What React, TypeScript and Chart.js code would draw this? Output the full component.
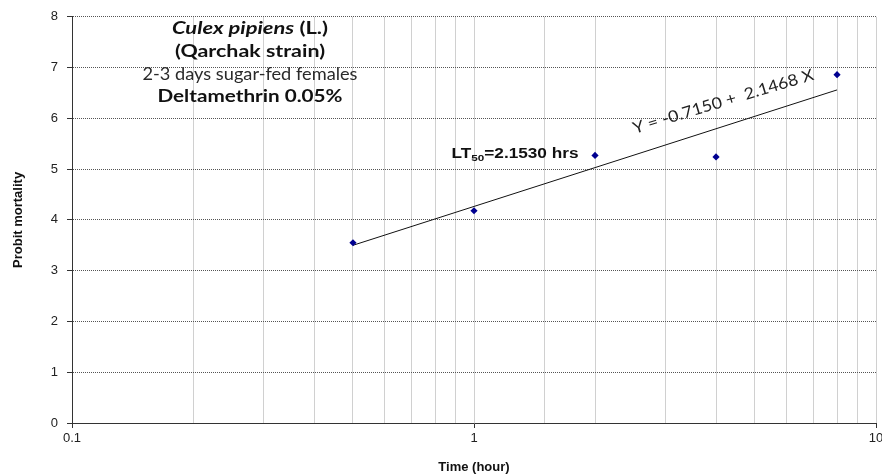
import React, { useEffect, useRef } from "react";
import { Chart, registerables } from "chart.js";

Chart.register(...registerables);

// ---- data ----
const timeHours = [0.5, 1, 2, 4, 8];
const probitMortality = [3.55, 4.18, 5.27, 5.24, 6.86];
const fitTime = [0.5, 8];
const fitProbit = [3.5, 6.56];
const xLabelValues = [0.1, 1, 10];
const yTickValues = [0, 1, 2, 3, 4, 5, 6, 7, 8];

const titleLines = [
  "Culex pipiens",
  " (L.)",
  "(Qarchak strain)",
  "2-3 days sugar-fed females",
  "Deltamethrin 0.05%",
];
const ltLabel = ["LT", "50", "=2.1530 hrs"];
const equationLabel = "Y = -0.7150 +  2.1468 X";

const W = 894;
const H = 476;

type Seg = { text: string; weight?: string; style?: string; family: string; scale?: number; dy?: number };

function fontOf(s: Seg, size: number) {
  const sz = size * (s.scale ?? 1);
  return `${s.style ?? "normal"} ${s.weight ?? "normal"} ${sz}px ${s.family}`;
}

function drawRich(
  ctx: CanvasRenderingContext2D,
  segs: Seg[],
  cx: number,
  cy: number,
  size: number,
  targetWidth: number,
  angle = 0,
  color = "#111"
) {
  ctx.save();
  ctx.translate(cx, cy);
  if (angle) ctx.rotate(angle);
  const widths = segs.map((s) => {
    ctx.font = fontOf(s, size);
    return ctx.measureText(s.text).width;
  });
  const total = widths.reduce((a, b) => a + b, 0);
  const sx = targetWidth / total;
  ctx.scale(sx, 1);
  ctx.fillStyle = color;
  ctx.textBaseline = "alphabetic";
  ctx.textAlign = "left";
  const cap = size * 0.716;
  let x = -total / 2;
  segs.forEach((s, i) => {
    ctx.font = fontOf(s, size);
    ctx.fillText(s.text, x, cap / 2 + (s.dy ?? 0));
    x += widths[i];
  });
  ctx.restore();
}

const isPow10 = (v: number) => Math.abs(Math.log10(v) - Math.round(Math.log10(v))) < 1e-6;

const textPlugin = {
  id: "texts",
  afterDatasetsDraw(chart: any) {
    const ctx: CanvasRenderingContext2D = chart.ctx;
    const CAL = "Lato, 'Open Sans', sans-serif";
    const AR = "'Liberation Sans', Arial, sans-serif";
    drawRich(
      ctx,
      [
        { text: titleLines[0], style: "italic", weight: "bold", family: CAL },
        { text: titleLines[1], weight: "bold", family: CAL },
      ],
      250, 28, 16.5, 156
    );
    drawRich(ctx, [{ text: titleLines[2], weight: "bold", family: CAL }], 250, 51, 16.5, 150);
    drawRich(ctx, [{ text: titleLines[3], family: CAL }], 250, 74.5, 16.5, 215, 0, "#2a2a2a");
    drawRich(ctx, [{ text: titleLines[4], weight: "bold", family: CAL }], 250, 96, 16.5, 185);
    drawRich(
      ctx,
      [
        { text: ltLabel[0], weight: "bold", family: AR },
        { text: ltLabel[1], weight: "bold", family: AR, scale: 0.68, dy: 3 },
        { text: ltLabel[2], weight: "bold", family: AR },
      ],
      515, 152.7, 14, 127
    );
    drawRich(ctx, [{ text: equationLabel, family: CAL }], 723, 101, 16, 188, (-16.8 * Math.PI) / 180, "#222");
  },
};

export default function App() {
  const ref = useRef<HTMLCanvasElement | null>(null);

  useEffect(() => {
    document.body.style.margin = "0";
    document.documentElement.style.overflow = "hidden";
    document.body.style.overflow = "hidden";
    const canvas = ref.current!;
    const chart = new Chart(canvas, {
      type: "scatter",
      data: {
        datasets: [
          {
            label: "Observed",
            data: timeHours.map((t, i) => ({ x: t, y: probitMortality[i] })),
            pointStyle: "rectRot",
            pointRadius: 3.6,
            pointBackgroundColor: "#000090",
            pointBorderColor: "#000090",
            pointBorderWidth: 0,
            showLine: false,
            order: 0,
          },
          {
            label: "Fit",
            data: fitTime.map((t, i) => ({ x: t, y: fitProbit[i] })),
            showLine: true,
            borderColor: "#111",
            borderWidth: 1,
            pointRadius: 0,
            order: 1,
          },
        ],
      },
      options: {
        responsive: false,
        animation: false,
        devicePixelRatio: 1,
        layout: { padding: { left: 0, right: W - 876, top: 13, bottom: 0 } },
        plugins: { legend: { display: false }, tooltip: { enabled: false } },
        scales: {
          x: {
            type: "logarithmic",
            min: 0.1,
            max: 10,
            afterFit: (s: any) => {
              s.height = H - 423;
            },
            ticks: {
              autoSkip: false,
              maxRotation: 0,
              padding: 3,
              color: "#222",
              font: { family: "'Liberation Sans', Arial, sans-serif", size: 13 },
              callback: (v: any) => {
                const n = Number(v);
                const hit = xLabelValues.find((x) => Math.abs(x - n) < 1e-9 * Math.max(1, x));
                return hit !== undefined ? String(hit) : "";
              },
            },
            grid: {
              color: "#d0d0d0",
              lineWidth: 1,
              tickLength: 5,
              tickColor: (c: any) => (c.tick && isPow10(c.tick.value) ? "#333" : "rgba(0,0,0,0)"),
            },
            border: { color: "#333", width: 1 },
            title: {
              display: true,
              text: "Time (hour)",
              color: "#111",
              font: { family: "'Liberation Sans', Arial, sans-serif", size: 13, weight: "bold" },
              padding: { top: 0, bottom: 1 },
            },
          },
          y: {
            min: 0,
            max: 8,
            afterFit: (s: any) => {
              s.width = 72;
            },
            afterBuildTicks: (s: any) => {
              s.ticks = yTickValues.map((v) => ({ value: v }));
            },
            ticks: {
              padding: 9,
              color: "#222",
              font: { family: "'Liberation Sans', Arial, sans-serif", size: 13 },
            },
            grid: {
              color: "#555",
              lineWidth: 1,
              tickLength: 5,
              tickColor: "#333",
              tickBorderDash: [],
            },
            border: { color: "#333", width: 1, dash: [1, 1] },
            title: {
              display: true,
              text: "Probit mortality",
              color: "#111",
              font: { family: "'Liberation Sans', Arial, sans-serif", size: 13, weight: "bold" },
              padding: { top: 11, bottom: 0 },
            },
          },
        },
      },
      plugins: [textPlugin],
    } as any);
    return () => chart.destroy();
  }, []);

  return (
    <div style={{ width: W, height: H, position: "relative" }}>
      <canvas ref={ref} width={W} height={H} style={{ display: "block", width: W, height: H }} />
    </div>
  );
}
